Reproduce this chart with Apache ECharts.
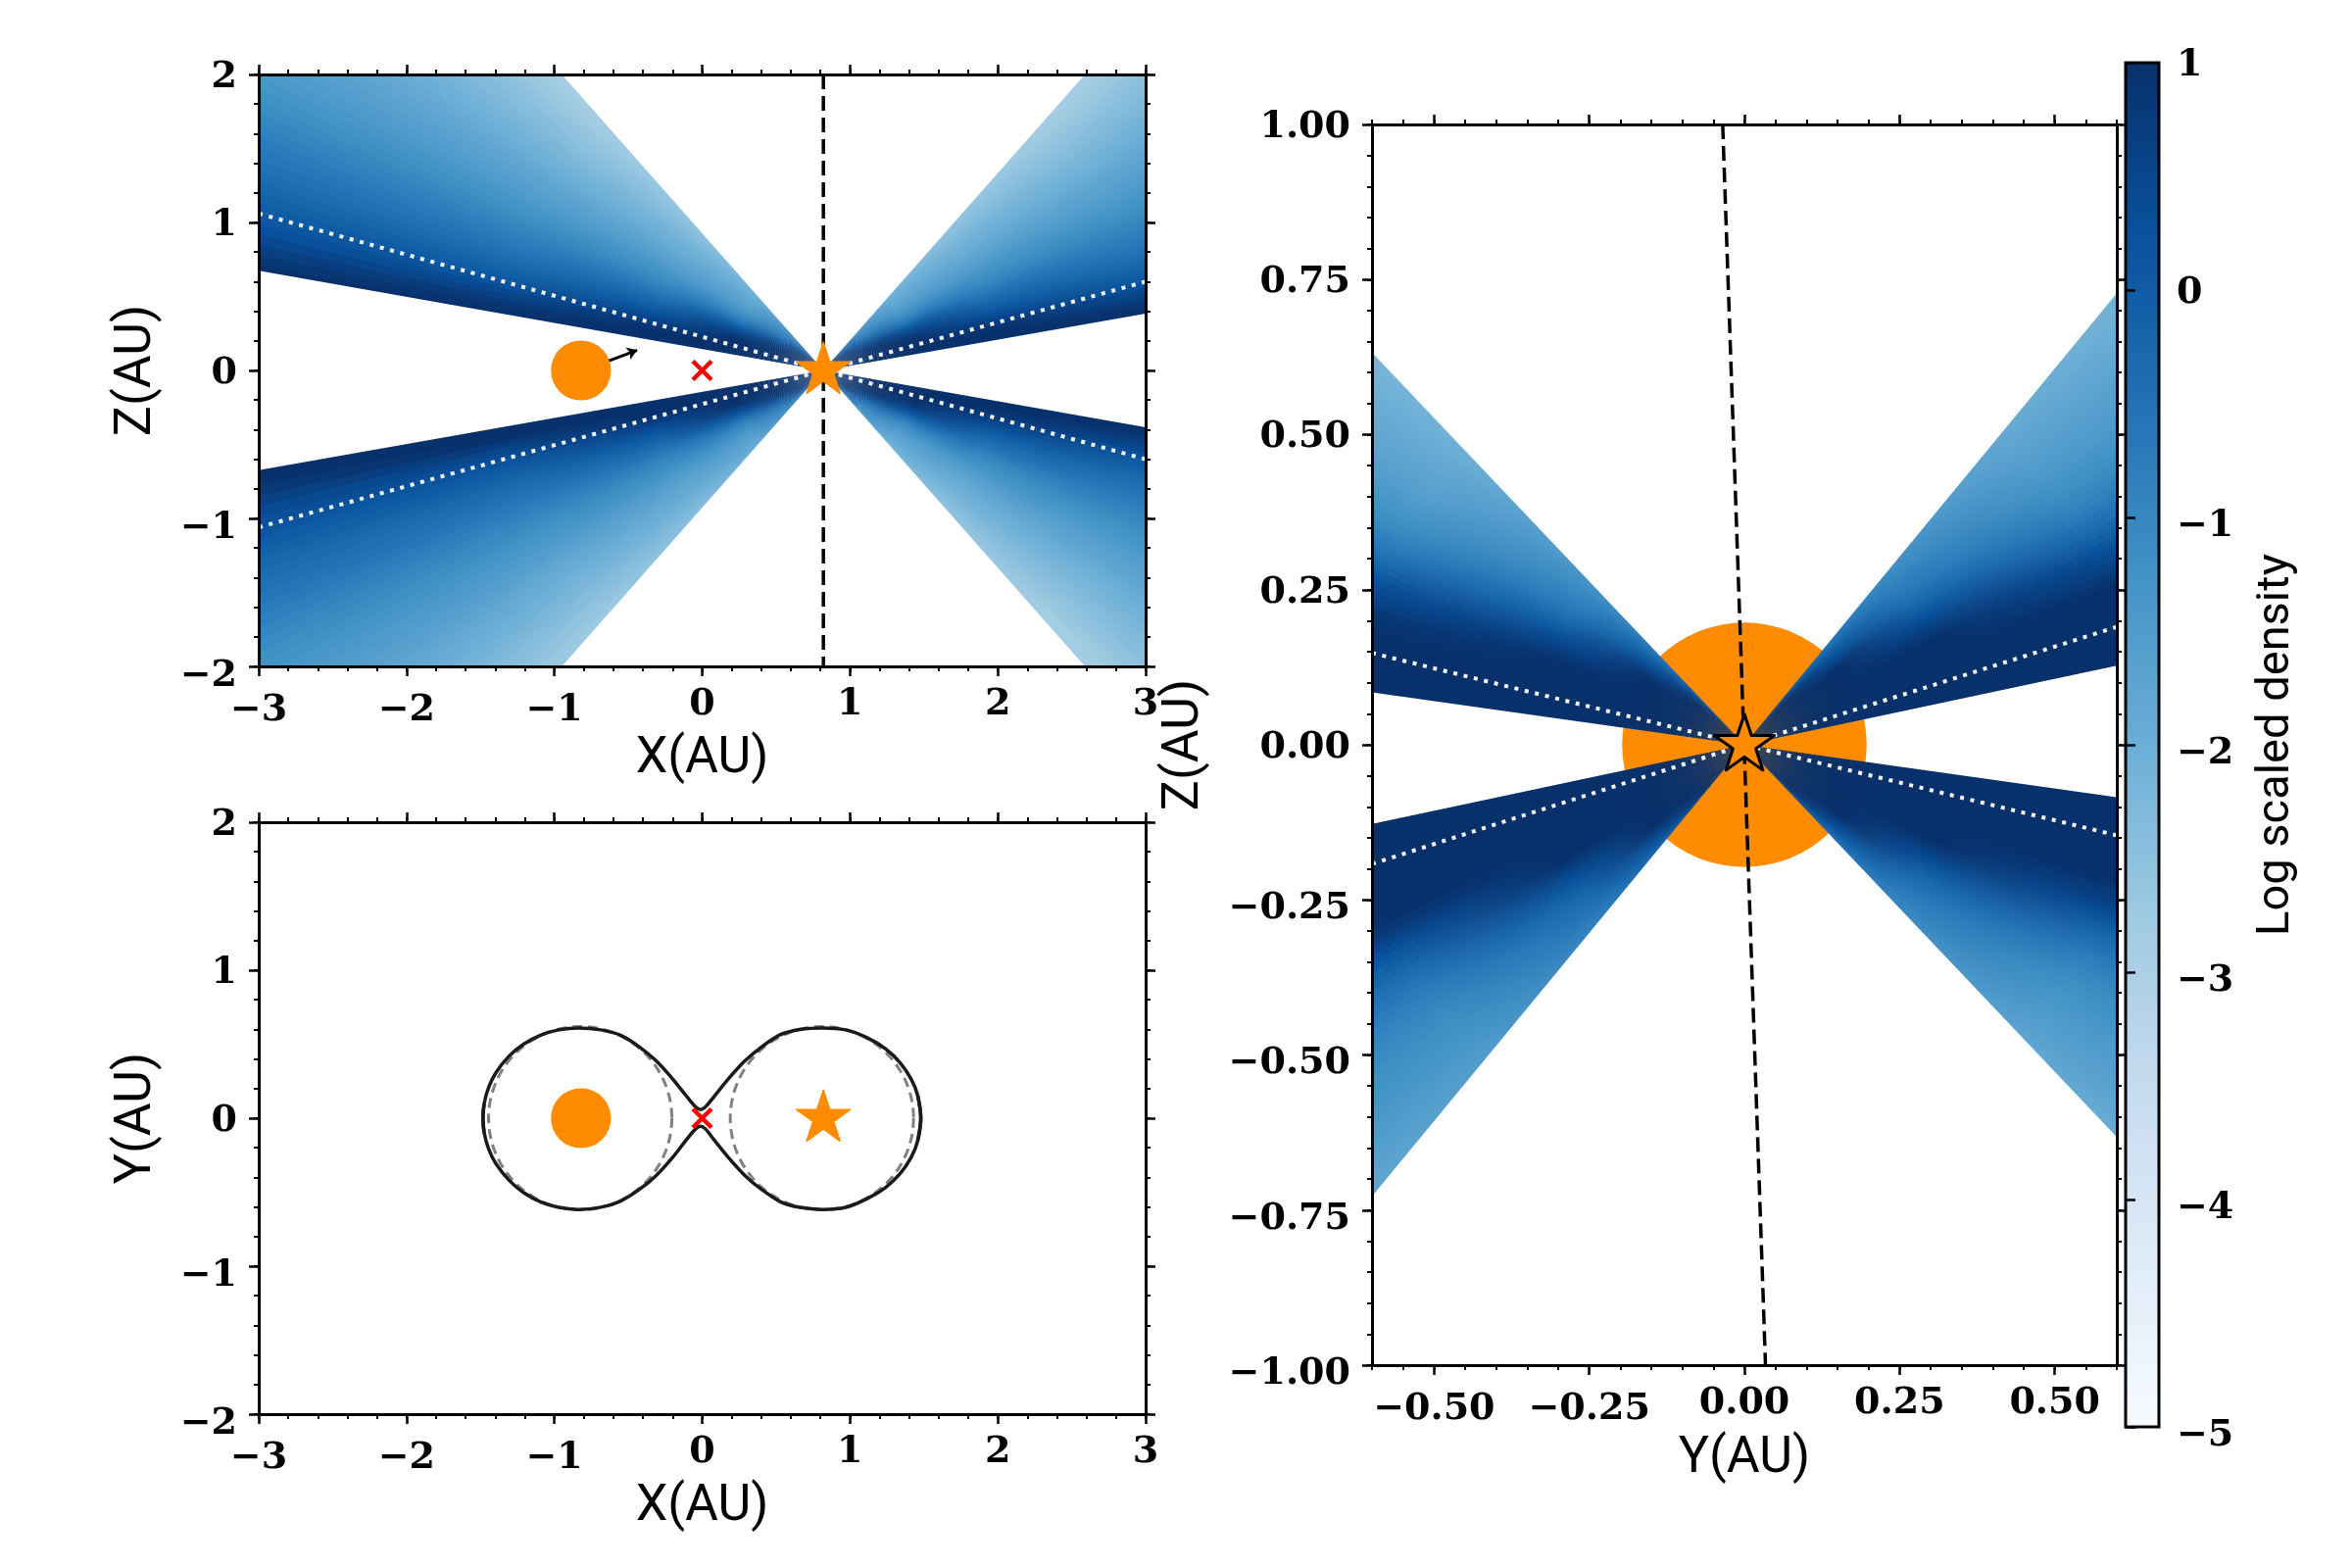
<!DOCTYPE html>
<html>
<head>
<meta charset="utf-8">
<script src="https://cdn.jsdelivr.net/npm/echarts@6/dist/echarts.min.js"></script>
<style>html,body{margin:0;background:#fff}#c{width:2400px;height:1600px}</style>
</head>
<body>
<div id="c"></div>
<script>
// colour map of the bar, light to dark
const blues = ['#f7fbff','#deebf7','#c6dbef','#9ecae1','#6baed6','#4292c6','#2171b5','#08519c','#08306b'];
const barTicks = [-5,-4,-3,-2,-1,0,1];

// axis ticks
const xMajor = [-3,-2,-1,0,1,2,3];
const yMajor = [-2,-1,0,1,2];
const yzMajor = [-0.5,-0.25,0,0.25,0.5];
const zMajor = [-1,-0.75,-0.5,-0.25,0,0.25,0.5,0.75,1];

// wind density, estimated from the colours: one row per opening angle (10 to 48 deg), one column per radius
const radii = [0,0.1,0.2,0.35,0.65,1.2,2.2,4.4];
const bandEdges = [10,10.5,11.5,12.5,13.5,14.5,15.5,16.5,17.5,18.5,19.5,20.5,21.5,22.5,23.5,24.5,25.5,26.5,27.5,28.5,29.5,30.5,31.5,32.5,33.5,34.5,35.5,36.5,37.5,38.5,39.5,40.5,41.5,42.5,43.5,44.5,45.5,46.5,47.5,48.5];
const logDensity = [
  [1,1,1,1,1,1,1,1],
  [1,1,1,1,1,1,0.92,0.8],
  [1,1,1,1,1,1,0.8,0.6],
  [1,1,1,1,1,0.96,0.6,0.4],
  [1,1,1,1,1,0.9,0.4,0.2],
  [1,1,1,1,1,0.78,0.22,0.07],
  [1,1,1,1,1,0.65,0.05,-0.05],
  [1,1,1,1,1,0.5,-0.08,-0.18],
  [1,1,1,1,1,0.35,-0.2,-0.3],
  [1,1,1,1,0.96,0.2,-0.33,-0.43],
  [1,1,1,1,0.9,0.05,-0.45,-0.55],
  [1,1,1,1,0.83,-0.08,-0.55,-0.65],
  [1,1,1,1,0.75,-0.2,-0.65,-0.75],
  [1,1,1,1,0.6,-0.33,-0.75,-0.88],
  [1,1,1,1,0.45,-0.45,-0.85,-1],
  [1,1,1,0.96,0.33,-0.58,-0.95,-1.13],
  [1,1,1,0.9,0.2,-0.7,-1.05,-1.25],
  [1,1,1,0.83,0,-0.83,-1.15,-1.35],
  [1,1,1,0.75,-0.2,-0.95,-1.25,-1.45],
  [1,1,1,0.65,-0.38,-1.05,-1.35,-1.53],
  [1,1,1,0.55,-0.55,-1.15,-1.45,-1.6],
  [1,1,1,0.43,-0.7,-1.23,-1.53,-1.68],
  [1,1,1,0.3,-0.85,-1.3,-1.6,-1.75],
  [1,1,1,0.18,-0.98,-1.4,-1.68,-1.83],
  [1,1,1,0.05,-1.1,-1.5,-1.75,-1.9],
  [1,1,0.96,-0.08,-1.2,-1.58,-1.85,-1.98],
  [1,1,0.9,-0.2,-1.3,-1.65,-1.95,-2.05],
  [1,1,0.83,-0.33,-1.38,-1.73,-2.03,-2.13],
  [1,1,0.75,-0.45,-1.45,-1.8,-2.1,-2.2],
  [1,1,0.63,-0.55,-1.53,-1.88,-2.18,-2.28],
  [1,1,0.5,-0.65,-1.6,-1.95,-2.25,-2.35],
  [1,1,0.38,-0.73,-1.65,-2,-2.33,-2.43],
  [1,1,0.25,-0.8,-1.7,-2.05,-2.4,-2.5],
  [1,0.92,0.13,-0.88,-1.75,-2.13,-2.48,-2.6],
  [1,0.8,0,-0.95,-1.8,-2.2,-2.55,-2.7],
  [1,0.65,-0.15,-1.03,-1.85,-2.28,-2.63,-2.78],
  [1,0.5,-0.3,-1.1,-1.9,-2.35,-2.7,-2.85],
  [1,0.3,-0.47,-1.18,-1.96,-2.42,-2.78,-2.93],
  [1,0.15,-0.62,-1.26,-2.02,-2.48,-2.86,-3.01]
];
// the four cones are not equally dense: upper right, upper left, lower left, lower right
const xzConeOffset = [0,0,0.15,0];
const yzConeOffset = [0.15,0,0.5,0.3];

// marks, in AU
const primary = [[0.82,0]];
const companion = [[-0.82,0,0.203]];
const lagrange = [[0,0]];
const spinArrow = [[-0.63,0.066],[-0.44,0.137]];
const xzAxisLine = [[0.82,2],[0.82,-2]];
const xzCones = [
  [[-3,1.06],[0.82,0]],
  [[3,0.6],[0.82,0]],
  [[-3,-1.06],[0.82,0]],
  [[3,-0.6],[0.82,0]]
];
const yzOrigin = [[0,0]];
const yzAxisLine = [[-0.035,1],[0.034,-1]];
const yzCones = [
  [[-0.6,0.148],[0,0]],
  [[0.6,0.19],[0,0]],
  [[-0.6,-0.192],[0,0]],
  [[0.6,-0.146],[0,0]]
];
const yzCompanion = [[0,0,0.197]];
const rocheUpper = [[-1.475,-0.098],[-1.483,0],[-1.475,0.098],[-1.444,0.209],[-1.395,0.308],[-1.308,0.418],[-1.208,0.5],[-1.09,0.562],[-0.97,0.597],[-0.839,0.61],[-0.685,0.597],[-0.552,0.56],[-0.42,0.478],[-0.309,0.385],[-0.199,0.264],[-0.11,0.154],[-0.044,0.076],[-0.011,0.058],[0.022,0.076],[0.077,0.142],[0.176,0.264],[0.287,0.385],[0.397,0.478],[0.53,0.565],[0.662,0.6],[0.817,0.61],[0.971,0.597],[1.116,0.544],[1.24,0.469],[1.34,0.374],[1.414,0.264],[1.458,0.154],[1.479,0],[1.458,-0.154]];
const rocheLower = [[-1.475,0.098],[-1.483,0],[-1.475,-0.098],[-1.444,-0.209],[-1.395,-0.308],[-1.308,-0.418],[-1.208,-0.503],[-1.09,-0.567],[-0.97,-0.603],[-0.839,-0.617],[-0.685,-0.602],[-0.552,-0.56],[-0.42,-0.478],[-0.309,-0.385],[-0.199,-0.264],[-0.11,-0.15],[-0.044,-0.072],[-0.011,-0.054],[0.022,-0.072],[0.077,-0.142],[0.176,-0.264],[0.287,-0.385],[0.397,-0.478],[0.53,-0.565],[0.662,-0.603],[0.817,-0.617],[0.971,-0.603],[1.116,-0.544],[1.24,-0.469],[1.34,-0.374],[1.414,-0.264],[1.458,-0.154],[1.479,0],[1.458,0.154]];
const innerLobes = [[-0.825,0,0.62],[0.81,0,0.62]];

const grids = [
  {left:264,top:76,width:905,height:604},
  {left:264,top:839,width:905,height:604},
  {left:1400,top:127,width:760,height:1266},
  {left:2169,top:64,width:34,height:1392}
];

const starPath = 'path://M50 0L61.2 34.5L97.6 34.5L68.2 55.9L79.4 90.5L50 69.1L20.6 90.5L31.8 55.9L2.4 34.5L38.8 34.5Z';
const crossPath = 'path://M0 0L100 100M100 0L0 100';
const numFont = {fontFamily:'DejaVu Serif',fontWeight:'bold',fontSize:38,color:'#000'};

function steps(a,b,d){ const out=[]; const n=Math.round((b-a)/d); for(let i=0;i<=n;i++) out.push(+(a+i*d).toFixed(4)); return out; }
function densityColor(v){ return echarts.color.lerp((Math.min(v,1)+5)/6, blues); }

const xAxes=[], yAxes=[], series=[];

function labelOf(v,dec){
  const t = Math.abs(v).toFixed(dec);
  return v<0 ? '{n|\u2212'+t+'}' : '{p|'+t+'}';
}
function labelStyle(dec,margin,negTop,posTop){
  return {show:true,margin,formatter:v=>labelOf(v,dec),rich:{
    n:Object.assign({padding:[negTop,0,0,0]},numFont),
    p:Object.assign({padding:[posTop||0,0,0,0]},numFont)
  }};
}

function axisPair(list,base,major,minor,sides,label,name){
  sides.forEach((pos,i)=>{
    list.push(Object.assign({},base,{type:'value',position:pos,z:20,
      axisLine:{show:true,onZero:false,lineStyle:{color:'#000',width:3}},
      splitLine:{show:false},
      axisTick:{show:true,length:10,customValues:major,lineStyle:{color:'#000',width:2.5}},
      axisLabel:i==0?Object.assign({customValues:major},label):{show:false}
    },i==0?name:{}));
    list.push(Object.assign({},base,{type:'value',position:pos,z:20,
      axisLine:{show:false,onZero:false},splitLine:{show:false},
      axisTick:{show:true,length:5,customValues:minor,lineStyle:{color:'#000',width:2}},
      axisLabel:{show:false}
    }));
  });
}

function frame(g,xr,yr,xMaj,xMin,yMaj,yMin,dec,xLab,yLab,xName,yName){
  const x0=xAxes.length, y0=yAxes.length;
  axisPair(xAxes,{gridIndex:g,min:xr[0],max:xr[1]},xMaj,xMin,['bottom','top'],labelStyle(dec,xLab.margin,xLab.neg),
    {name:xName,nameLocation:'middle',nameGap:xLab.gap,nameTextStyle:{fontFamily:'Roboto',fontSize:52,color:'#000'}});
  axisPair(yAxes,{gridIndex:g,min:yr[0],max:yr[1]},yMaj,yMin,['left','right'],labelStyle(dec,yLab.margin,yLab.neg,yLab.pos),
    {name:yName,nameLocation:'middle',nameGap:yLab.gap,nameRotate:90,nameTextStyle:{fontFamily:'Roboto',fontSize:52,color:'#000'}});
  return [x0,y0];
}

function wedges(ax,apex,tilt,offset,z){
  const data=[];
  for(let w=0;w<4;w++) for(let b=0;b<logDensity.length;b++) data.push([w,b]);
  series.push({type:'custom',xAxisIndex:ax[0],yAxisIndex:ax[1],clip:true,silent:true,z,animation:false,progressive:0,data,
    renderItem:(p,api)=>{
      const w=api.value(0), b=api.value(1);
      const dir=a=>{ // wedge angle to direction on the plot
        const q=(w==0?a:w==1?180-a:w==2?180+a:-a)+tilt;
        return [Math.cos(q*Math.PI/180),Math.sin(q*Math.PI/180)];
      };
      const R=radii[radii.length-1];
      const at=(a,r)=>{const d=dir(a);return api.coord([apex[0]+d[0]*r,apex[1]+d[1]*r]);};
      const a1=bandEdges[b], a2=Math.min(bandEdges[b+1]+0.3,bandEdges[bandEdges.length-1]);
      const mid=(bandEdges[b]+bandEdges[b+1])/2;
      const p0=at(mid,0), p1=at(mid,R);
      const stops=radii.map((r,i)=>({offset:r/R,color:densityColor(logDensity[b][i]+offset[w])}));
      return {type:'polygon',shape:{points:[at(a1,0),at(a1,R),at(a2,R)]},
        style:{fill:new echarts.graphic.LinearGradient(p0[0],p0[1],p1[0],p1[1],stops,true)}};
    }});
}

function circles(ax,data,style,z){
  series.push({type:'custom',xAxisIndex:ax[0],yAxisIndex:ax[1],silent:true,z,animation:false,data,
    renderItem:(p,api)=>{
      const c=api.coord([api.value(0),api.value(1)]);
      const r=api.size([api.value(2),0])[0];
      return {type:'circle',shape:{cx:c[0],cy:c[1],r},style};
    }});
}

function line(ax,data,color,width,dash,z,smooth){
  series.push({type:'line',xAxisIndex:ax[0],yAxisIndex:ax[1],data,showSymbol:false,symbol:'none',silent:true,z,animation:false,smooth:smooth||false,
    lineStyle:{color,width,type:dash||'solid',cap:'butt'}});
}

function star(ax,data,size,border,z){
  series.push({type:'scatter',xAxisIndex:ax[0],yAxisIndex:ax[1],data,symbol:starPath,symbolSize:size,symbolOffset:[0,-2.7],silent:true,z,animation:false,
    itemStyle:{color:'#ff8c00',borderColor:border?'#000':'#ff8c00',borderWidth:border?3:1.5,opacity:1,borderJoin:'round'}});
}

function cross(ax,z){
  series.push({type:'scatter',xAxisIndex:ax[0],yAxisIndex:ax[1],data:lagrange,symbol:crossPath,symbolSize:19,silent:true,z,animation:false,
    itemStyle:{color:'none',borderColor:'#ff0000',borderWidth:4.5,opacity:1}});
}

// X-Z panel
const xLabAU={margin:20,neg:6,gap:69};
const yLabAU={margin:22,neg:20,pos:7,gap:98};
const a1=frame(0,[-3,3],[-2,2],xMajor,steps(-3,3,0.2),yMajor,steps(-2,2,0.2),0,xLabAU,yLabAU,'X(AU)','Z(AU)');
wedges(a1,primary[0],0,xzConeOffset,3);
line(a1,xzAxisLine,'#000',3.5,[15,7],4);
xzCones.forEach(c=>line(a1,c,'#f4f7fa',4,[4,6.7],5));
circles(a1,companion,{fill:'#ff8c00'},6);
series.push({type:'lines',coordinateSystem:'cartesian2d',xAxisIndex:a1[0],yAxisIndex:a1[1],silent:true,z:6,animation:false,
  symbol:['none','arrow'],symbolSize:[1,10],data:[{coords:spinArrow}],lineStyle:{color:'#000',width:3,opacity:1}});
cross(a1,6);
star(a1,primary,[55,52],false,7);

// X-Y panel
const a2=frame(1,[-3,3],[-2,2],xMajor,steps(-3,3,0.2),yMajor,steps(-2,2,0.2),0,xLabAU,yLabAU,'X(AU)','Y(AU)');
circles(a2,innerLobes,{fill:'none',stroke:'#808080',lineWidth:3,lineDash:[10,6]},3);
line(a2,rocheUpper,'#1a1a1a',3.5,'solid',4,0.3);
line(a2,rocheLower,'#1a1a1a',3.5,'solid',4,0.3);
circles(a2,companion,{fill:'#ff8c00'},5);
cross(a2,6);
star(a2,primary,[55,52],false,7);

// Y-Z panel
const a3=frame(2,[-0.6,0.6],[-1,1],yzMajor,steps(-0.6,0.6,0.05),zMajor,steps(-1,1,0.05),2,{margin:20,neg:6,gap:70},{margin:22,neg:18,pos:6,gap:165},'Y(AU)','Z(AU)');
circles(a3,yzCompanion,{fill:'#ff8c00'},2);
wedges(a3,yzOrigin[0],2,yzConeOffset,3);
line(a3,yzAxisLine,'#000',3.5,[15,7],4);
yzCones.forEach(c=>line(a3,c,'#f4f7fa',4,[4,6.7],5));
star(a3,yzOrigin,[61,57],true,7);

// colour bar
const cbX=xAxes.length, cbY=yAxes.length;
xAxes.push({type:'value',gridIndex:3,min:0,max:1,show:false});
yAxes.push({type:'value',gridIndex:3,min:-5,max:1,position:'right',z:20,
  axisLine:{show:false},splitLine:{show:false},
  axisTick:{show:true,length:10,customValues:barTicks,lineStyle:{color:'#000',width:2.5}},
  axisLabel:Object.assign({customValues:barTicks},labelStyle(0,18,18,6)),
  name:'Log scaled density',nameLocation:'middle',nameRotate:90,nameGap:97,
  nameTextStyle:{fontFamily:'Roboto',fontSize:47,color:'#000'}});
series.push({type:'custom',xAxisIndex:cbX,yAxisIndex:cbY,silent:true,z:10,animation:false,data:[[0,-5,1,1]],
  renderItem:(p,api)=>{
    const a=api.coord([api.value(0),api.value(1)]), b=api.coord([api.value(2),api.value(3)]);
    return {type:'rect',shape:{x:a[0],y:b[1],width:b[0]-a[0],height:a[1]-b[1]},
      style:{stroke:'#000',lineWidth:3,fill:new echarts.graphic.LinearGradient(0,1,0,0,blues.map((c,i)=>({offset:i/(blues.length-1),color:c})))}};
  }});

const chart=echarts.init(document.getElementById('c'),null,{renderer:'canvas',width:2400,height:1600});
chart.setOption({animation:false,backgroundColor:'#fff',grid:grids,xAxis:xAxes,yAxis:yAxes,series});
</script>
</body>
</html>
